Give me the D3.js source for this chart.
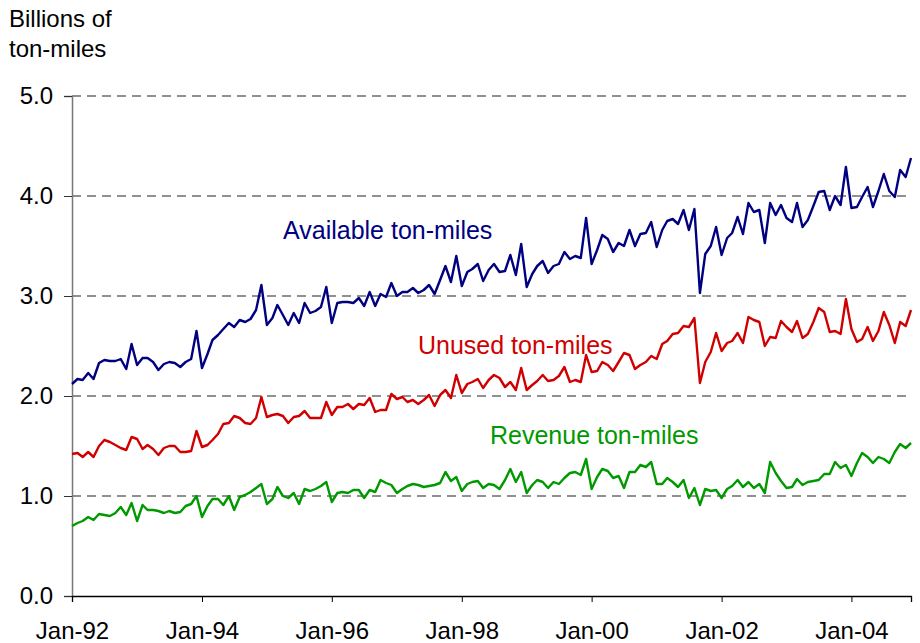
<!DOCTYPE html>
<html>
<head>
<meta charset="utf-8">
<script src="https://cdn.jsdelivr.net/npm/d3@7"></script>
<style>
  body { margin: 0; background: #fff; }
  text { font-family: "Liberation Sans", Arial, sans-serif; }
</style>
</head>
<body>
<svg id="chart"></svg>
<script>
const width = 920;
const height = 643;

// monthly values, Jan-92 .. Dec-04 (billions of ton-miles)
const available = [
  2.12, 2.17, 2.16, 2.23, 2.17, 2.33, 2.36, 2.35, 2.35, 2.37, 2.27, 2.52,
  2.31, 2.38, 2.38, 2.34, 2.26, 2.32, 2.34, 2.33, 2.29, 2.34, 2.37, 2.65,
  2.28, 2.42, 2.56, 2.61, 2.67, 2.73, 2.69, 2.76, 2.74, 2.77, 2.86, 3.11,
  2.71, 2.78, 2.91, 2.81, 2.71, 2.83, 2.73, 2.93, 2.83, 2.85, 2.89, 3.09,
  2.73, 2.93, 2.94, 2.94, 2.93, 2.98, 2.90, 3.04, 2.90, 3.02, 2.99, 3.13,
  3.00, 3.04, 3.04, 3.08, 3.03, 3.06, 3.11, 3.02, 3.16, 3.30, 3.14, 3.40,
  3.10, 3.24, 3.27, 3.32, 3.15, 3.26, 3.32, 3.24, 3.25, 3.41, 3.21, 3.52,
  3.09, 3.22, 3.30, 3.35, 3.23, 3.30, 3.32, 3.44, 3.37, 3.40, 3.38, 3.78,
  3.32, 3.46, 3.61, 3.57, 3.44, 3.53, 3.50, 3.66, 3.50, 3.62, 3.63, 3.74,
  3.49, 3.66, 3.75, 3.77, 3.72, 3.86, 3.66, 3.87, 3.03, 3.42, 3.50, 3.69,
  3.41, 3.58, 3.63, 3.79, 3.62, 3.93, 3.84, 3.86, 3.53, 3.93, 3.81, 3.91,
  3.78, 3.74, 3.93, 3.69, 3.76, 3.90, 4.04, 4.05, 3.86, 4.00, 3.91, 4.29,
  3.88, 3.89, 3.99, 4.09, 3.89, 4.05, 4.22, 4.05, 3.99, 4.26, 4.19, 4.38
];
const unused = [
  1.42, 1.43, 1.39, 1.44, 1.39, 1.50, 1.56, 1.54, 1.51, 1.48, 1.46, 1.59,
  1.57, 1.47, 1.51, 1.47, 1.41, 1.48, 1.50, 1.50, 1.44, 1.44, 1.45, 1.65,
  1.49, 1.51, 1.56, 1.62, 1.72, 1.73, 1.80, 1.78, 1.73, 1.72, 1.78, 1.99,
  1.79, 1.81, 1.82, 1.80, 1.73, 1.79, 1.80, 1.85, 1.78, 1.78, 1.78, 1.94,
  1.81, 1.89, 1.89, 1.92, 1.87, 1.92, 1.91, 1.98, 1.84, 1.86, 1.86, 2.02,
  1.97, 1.99, 1.94, 1.96, 1.92, 1.96, 2.01, 1.90, 2.01, 2.06, 1.98, 2.21,
  2.03, 2.12, 2.14, 2.17, 2.08, 2.16, 2.21, 2.18, 2.09, 2.14, 2.06, 2.28,
  2.06, 2.11, 2.15, 2.21, 2.15, 2.16, 2.20, 2.29, 2.14, 2.16, 2.14, 2.41,
  2.24, 2.25, 2.34, 2.31, 2.25, 2.34, 2.43, 2.41, 2.27, 2.31, 2.34, 2.40,
  2.37, 2.52, 2.55, 2.62, 2.63, 2.70, 2.69, 2.78, 2.13, 2.34, 2.44, 2.63,
  2.45, 2.53, 2.55, 2.63, 2.53, 2.79, 2.76, 2.74, 2.50, 2.59, 2.58, 2.75,
  2.69, 2.64, 2.75, 2.58, 2.62, 2.74, 2.88, 2.84, 2.64, 2.65, 2.62, 2.97,
  2.67, 2.54, 2.57, 2.69, 2.55, 2.65, 2.84, 2.71, 2.53, 2.74, 2.70, 2.86
];
const revenue = [
  0.70, 0.73, 0.75, 0.79, 0.76, 0.82, 0.81, 0.80, 0.83, 0.89, 0.81, 0.93,
  0.75, 0.91, 0.86, 0.86, 0.85, 0.83, 0.85, 0.83, 0.84, 0.90, 0.92, 1.00,
  0.79, 0.90, 0.97, 0.97, 0.91, 1.00, 0.86, 0.99, 1.01, 1.04, 1.08, 1.12,
  0.92, 0.97, 1.09, 1.00, 0.98, 1.03, 0.92, 1.07, 1.05, 1.07, 1.10, 1.14,
  0.94, 1.03, 1.04, 1.03, 1.06, 1.06, 0.98, 1.06, 1.04, 1.16, 1.13, 1.11,
  1.03, 1.07, 1.10, 1.12, 1.11, 1.09, 1.10, 1.11, 1.13, 1.24, 1.15, 1.19,
  1.05, 1.12, 1.14, 1.15, 1.08, 1.12, 1.11, 1.07, 1.16, 1.27, 1.14, 1.24,
  1.03, 1.11, 1.16, 1.14, 1.08, 1.14, 1.12, 1.18, 1.23, 1.24, 1.21, 1.37,
  1.07, 1.19, 1.27, 1.25, 1.18, 1.20, 1.08, 1.24, 1.24, 1.31, 1.29, 1.34,
  1.12, 1.12, 1.18, 1.14, 1.09, 1.16, 0.98, 1.08, 0.91, 1.07, 1.05, 1.06,
  0.98, 1.07, 1.10, 1.16, 1.09, 1.14, 1.08, 1.12, 1.03, 1.34, 1.23, 1.15,
  1.08, 1.09, 1.17, 1.11, 1.14, 1.15, 1.16, 1.22, 1.22, 1.34, 1.28, 1.31,
  1.20, 1.33, 1.43, 1.39, 1.33, 1.39, 1.37, 1.33, 1.44, 1.52, 1.48, 1.53
];
const months = available.map((d, i) => new Date(1992, i, 1));
const yTicks = [0, 1, 2, 3, 4, 5];
const seriesNames = ["Available ton-miles", "Unused ton-miles", "Revenue ton-miles"];

const margin = { left: 72, right: 9, top: 96, bottom: 47 };

const svg = d3.select('#chart')
  .attr('width', width)
  .attr('height', height);

const x = d3.scaleTime()
  .domain([months[0], months[months.length - 1]])
  .range([margin.left, width - margin.right]);

const y = d3.scaleLinear()
  .domain([0, 5])
  .range([height - margin.bottom, margin.top]);

// dashed gridlines
svg.append("g")
  .selectAll("line")
  .data(yTicks.filter(d => d > 0))
  .join("line")
  .attr("x1", margin.left)
  .attr("x2", width - margin.right)
  .attr("y1", d => y(d))
  .attr("y2", d => y(d))
  .attr("stroke", "#222")
  .attr("stroke-width", 1.2)
  .attr("stroke-dasharray", "9,6");

// y axis
const yAxis = svg.append("g")
  .attr("transform", `translate(${margin.left},0)`)
  .call(d3.axisLeft(y).tickValues(yTicks).tickFormat(d3.format(".1f")).tickSize(8).tickPadding(11));
yAxis.select(".domain").attr("stroke", "#777").attr("stroke-width", 1.5);
yAxis.selectAll(".tick line").attr("stroke", "#333");
yAxis.selectAll("text").attr("font-size", 24).attr("fill", "#000")
  .attr("font-family", "Liberation Sans, Arial, sans-serif");

// x axis
const xAxis = svg.append("g")
  .attr("transform", `translate(0,${y(0)})`)
  .call(d3.axisBottom(x).ticks(d3.timeYear.every(2)).tickFormat(d3.timeFormat("%b-%y")).tickSize(6).tickPadding(20));
xAxis.select(".domain").attr("stroke", "#000").attr("stroke-width", 1.3);
xAxis.selectAll("text").attr("font-size", 24).attr("fill", "#000")
  .attr("font-family", "Liberation Sans, Arial, sans-serif");

// lines
let line = d3.line()
  .x((d, i) => x(months[i]))
  .y(d => y(d));

const colors = ["#000080", "#d00000", "#009900"];
[available, unused, revenue].forEach((s, k) => {
  svg.append("path")
    .attr("d", line(s))
    .attr("fill", "none")
    .attr("stroke", colors[k])
    .attr("stroke-width", 2.4)
    .attr("stroke-linejoin", "round");
});

// series labels
const labelPos = [[283, 239], [418, 354], [490, 444]];
seriesNames.forEach((n, k) => {
  svg.append("text")
    .attr("x", labelPos[k][0])
    .attr("y", labelPos[k][1])
    .attr("font-size", 25)
    .attr("fill", colors[k])
    .text(n);
});

// unit title
svg.append("text")
  .attr("x", 9).attr("y", 27)
  .attr("font-size", 24)
  .text("Billions of");
svg.append("text")
  .attr("x", 9).attr("y", 57)
  .attr("font-size", 24)
  .text("ton-miles");
</script>
</body>
</html>
